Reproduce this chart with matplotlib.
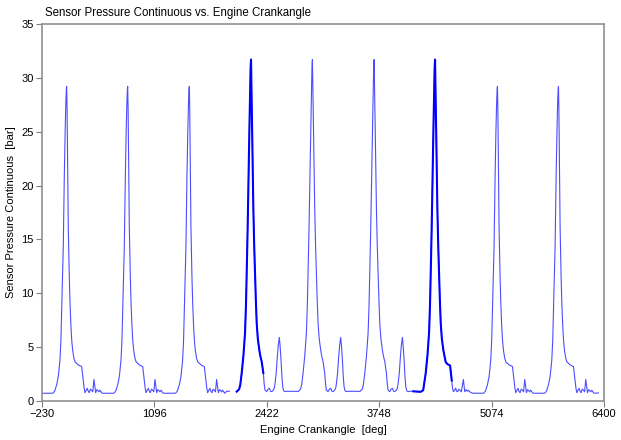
import numpy as np
import matplotlib
matplotlib.use('Agg')
import matplotlib.pyplot as plt

plt.rcParams['font.family'] = ['Liberation Sans', 'DejaVu Sans']

# crank angle of each firing peak [deg] and which pressure shape it has
peak_angles = [61, 781, 1508, 2236, 2960, 3688, 4407, 5143, 5863]
cycle_types = ['a', 'a', 'a', 'b', 'b', 'b', 'c', 'a', 'a']

# shape 'a': 29.2 bar peak, shoulder then small ripples
shape_a_ang = [-290, -250, -170, -158, -140, -118, -98, -79, -68, -59, -52, -40, -28, -18, -10, -4, 0,
               5, 12, 19, 31, 40, 50, 60, 71, 85, 98, 137, 177, 186, 196, 206, 216, 230, 243, 255, 267,
               280, 295, 308, 322, 342, 355, 366, 380, 393, 410, 420]
shape_a_bar = [0.72, 0.72, 0.72, 0.75, 0.95, 1.5, 2.3, 3.8, 5.6, 8.2, 10.6, 14.3, 20.8, 25.0, 27.6, 28.9, 29.2,
               27.0, 22.0, 16.2, 11.5, 9.0, 7.0, 5.6, 4.7, 4.0, 3.65, 3.35, 3.2, 2.6, 1.95, 1.2, 0.77, 1.0, 1.18, 0.9, 0.77,
               1.1, 1.0, 0.85, 2.0, 0.77, 1.05, 1.0, 0.85, 1.0, 0.8, 0.72]

# shape 'b': 31.7 bar peak with a ~6 bar secondary peak
shape_b_ang = [-290, -250, -186, -169, -140, -127, -110, -90, -71, -60, -51, -40, -32, -20, -12, -5, 0,
               5, 15, 27, 37, 47, 57, 67, 80, 98, 112, 126, 145, 155, 165, 185, 200, 216, 230, 244, 262,
               275, 283, 297, 310, 322, 334, 344, 354, 364, 374, 385, 401, 420]
shape_b_bar = [0.9, 0.9, 0.9, 0.87, 1.1, 1.5, 2.6, 4.2, 6.3, 8.8, 11.9, 16.0, 19.6, 25.0, 28.2, 31.0, 31.7,
               29.0, 24.2, 18.0, 14.5, 11.9, 9.3, 7.2, 5.8, 4.7, 4.1, 3.65, 2.6, 1.6, 1.0, 0.87, 1.1, 1.18, 0.9, 0.87, 1.0,
               1.2, 1.6, 2.6, 4.1, 5.2, 5.9, 5.0, 3.8, 2.3, 1.3, 0.95, 0.87, 0.9]

# shape 'c': 31.7 bar peak, shoulder then small ripples
shape_c_ang = [-290, -257, -170, -140, -110, -90, -71, -60, -51, -40, -32, -20, -12, -5, 0,
               5, 15, 27, 37, 47, 57, 67, 80, 98, 126, 150, 177, 187, 197, 206, 216, 230, 243, 255, 267,
               280, 295, 310, 334, 350, 366, 380, 393, 410, 420]
shape_c_bar = [0.9, 0.9, 0.85, 1.0, 2.6, 4.2, 6.3, 8.8, 11.9, 16.0, 19.6, 25.0, 28.2, 31.0, 31.7,
               29.0, 24.2, 18.0, 14.5, 11.9, 9.3, 7.2, 5.8, 4.7, 3.6, 3.4, 3.3, 2.6, 1.9, 1.2, 0.87, 1.0, 1.2, 0.9, 0.87,
               1.1, 1.0, 0.85, 2.0, 0.87, 1.05, 0.9, 1.0, 0.85, 0.8]

trace_end = [6334, 0.75]
gap = (1980, 2067)                          # no samples recorded here
dense_spans = [(2067, 2381), (4150, 4604)]  # densely sampled, drawn darker

x_ticks = [-230, 1096, 2422, 3748, 5074, 6400]
y_ticks = [0, 5, 10, 15, 20, 25, 30, 35]

shapes = {'a': (shape_a_ang, shape_a_bar),
          'b': (shape_b_ang, shape_b_bar),
          'c': (shape_c_ang, shape_c_bar)}


def build_trace():
    xs, ys = [], []
    for tdc, kind in zip(peak_angles, cycle_types):
        ang, bar = shapes[kind]
        xs.append(np.array(ang, dtype=float) + tdc)
        ys.append(np.array(bar, dtype=float))
    xs.append(np.array([trace_end[0]], dtype=float))
    ys.append(np.array([trace_end[1]], dtype=float))
    x = np.concatenate(xs)
    y = np.concatenate(ys)

    # break the line over the missing samples
    g0, g1 = gap
    y0, y1 = np.interp(g0, x, y), np.interp(g1, x, y)
    left = x < g0
    right = x > g1
    x = np.concatenate([x[left], [g0, g0, g1], x[right]])
    y = np.concatenate([y[left], [y0, np.nan, y1], y[right]])
    return x, y


x, y = build_trace()

fig = plt.figure(figsize=(6.21, 4.40), dpi=100)
ax = fig.add_axes([42/621, 1 - 401/440, 562/621, 377/440])

ax.plot(x, y, color=(0.3, 0.3, 1.0), lw=0.8)
for s0, s1 in dense_spans:
    m = (x >= s0) & (x <= s1)
    ax.plot(x[m], y[m], color='#0000ff', lw=1.5)

ax.set_xlim(x_ticks[0], x_ticks[-1])
ax.set_ylim(y_ticks[0], y_ticks[-1])
ax.set_xticks(x_ticks)
ax.set_yticks(y_ticks)
ax.tick_params(labelsize=8, length=4, width=0.8, color='#808080', pad=2)

for sp in ax.spines.values():
    sp.set_color('#909090')
    sp.set_linewidth(1.2)

ax.set_xlabel('Engine Crankangle  [deg]', fontsize=8, labelpad=4)
ax.set_ylabel('Sensor Pressure Continuous  [bar]', fontsize=8, labelpad=4)
fig.text(45/621, 1 - 13/440, 'Sensor Pressure Continuous vs. Engine Crankangle',
         fontsize=8.3, ha='left', va='center')

fig.savefig('out.png', dpi=100)
